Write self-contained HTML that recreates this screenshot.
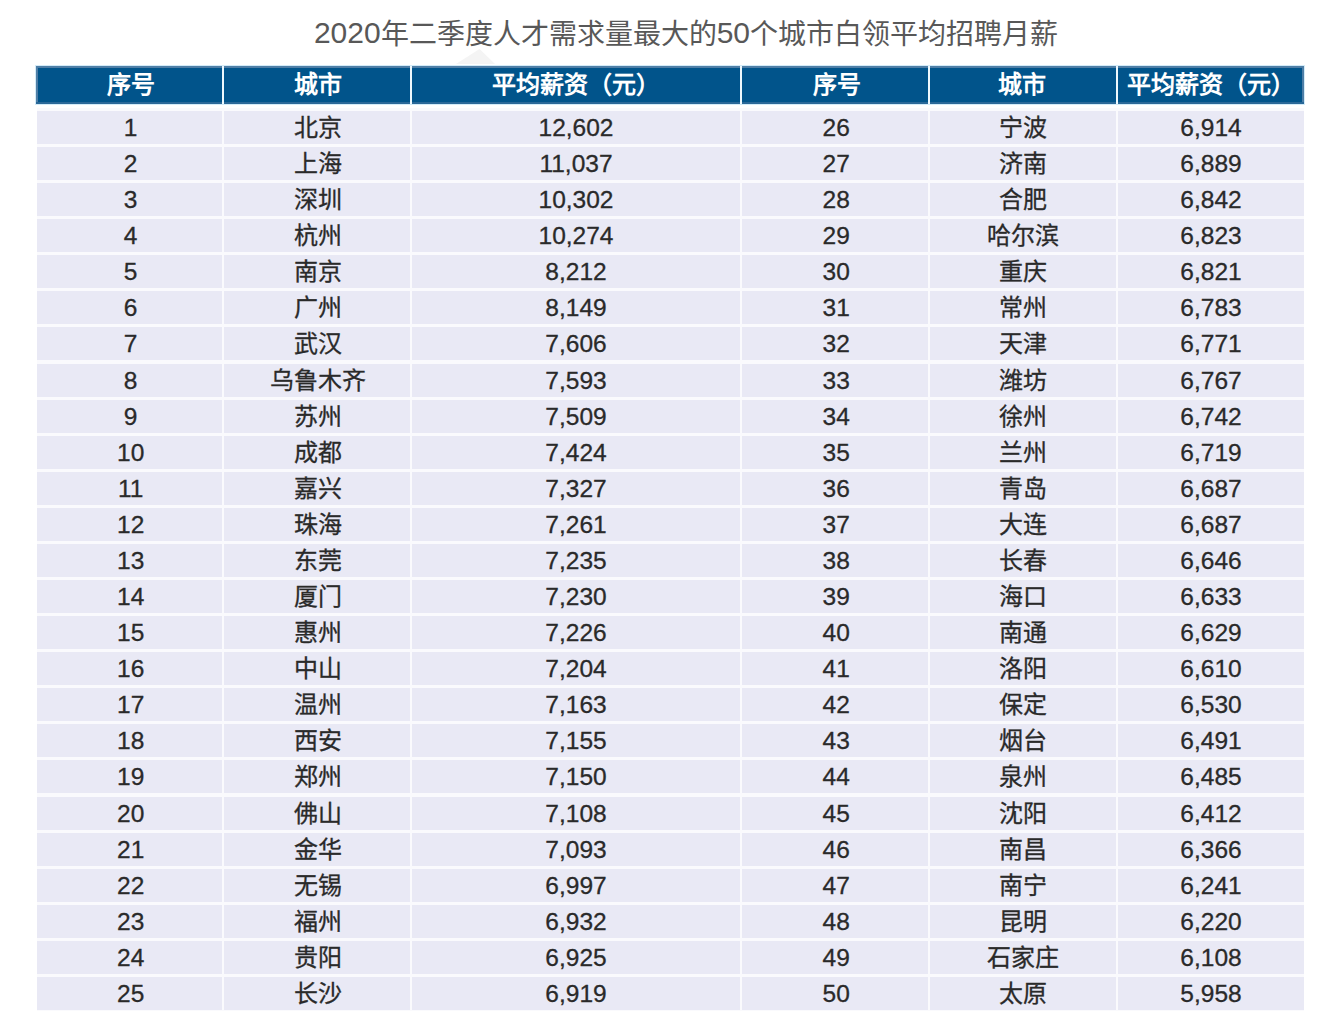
<!DOCTYPE html>
<html lang="zh-CN"><head><meta charset="utf-8"><style>
*{margin:0;padding:0;box-sizing:border-box}
html,body{width:1338px;height:1036px;background:#fff;overflow:hidden}
body{position:relative;font-family:"Liberation Sans",sans-serif}
.t{position:absolute;left:0;top:14px;width:1372px;text-align:center;font-size:28px;line-height:40px;color:#585858;white-space:nowrap}
.td{font-size:30px;position:relative;top:-1.5px}
.hb{position:absolute;left:35px;top:65px;width:1270px;height:40px;background:#d3ebf8}
.h{position:absolute;top:66px;height:38px;background:#01548b;box-shadow:inset 0 2px 0 #4f7ea6,inset 0 -2px 0 #2a6898;color:#fff;font-weight:bold;font-size:24px;line-height:38px;text-align:center;white-space:nowrap}
.tb{position:absolute;left:37px;top:108px;width:1267px;height:903px;background:#fafafd}
.c{position:absolute;height:33px;background:#e9e9f5;color:#2a2a2a;line-height:33px;text-align:center;white-space:nowrap}
.n{font-size:24.5px;-webkit-text-stroke:0.3px #2a2a2a}
.z{font-size:24px;-webkit-text-stroke:0.3px #2a2a2a}
</style></head><body>
<div class="t"><span class="td">2020</span>年二季度人才需求量最大的<span class="td">50</span>个城市白领平均招聘月薪</div>
<svg style="position:absolute;left:0;top:0" width="1338" height="70"><polygon points="456,64 479.5,49 495,64" fill="#f4f4f4"/></svg>
<div class="hb"></div>
<div style="position:absolute;left:222px;top:66px;width:2px;height:38px;background:#eef8fd"></div>
<div style="position:absolute;left:410px;top:66px;width:2px;height:38px;background:#eef8fd"></div>
<div style="position:absolute;left:740px;top:66px;width:2px;height:38px;background:#eef8fd"></div>
<div style="position:absolute;left:928px;top:66px;width:2px;height:38px;background:#eef8fd"></div>
<div style="position:absolute;left:1116px;top:66px;width:2px;height:38px;background:#eef8fd"></div>
<div class="h" style="left:36px;width:186px;box-shadow:inset 0 2px 0 #4f7ea6,inset 0 -2px 0 #2a6898,inset 2px 0 0 #4f7ea6"><span style="position:relative;left:1.8px">序号</span></div>
<div class="h" style="left:224px;width:186px"><span style="position:relative;left:0.9px">城市</span></div>
<div class="h" style="left:412px;width:328px"><span style="position:relative;left:0.0px">平均薪资（元）</span></div>
<div class="h" style="left:742px;width:186px"><span style="position:relative;left:1.6px">序号</span></div>
<div class="h" style="left:930px;width:186px"><span style="position:relative;left:-1.0px">城市</span></div>
<div class="h" style="left:1118px;width:186px;box-shadow:inset 0 2px 0 #4f7ea6,inset 0 -2px 0 #2a6898,inset -2px 0 0 #4f7ea6"><span style="position:relative;left:0.0px">平均薪资（元）</span></div>
<div class="tb"></div>
<div class="c n" style="left:37px;top:111px;width:185px"><span style="position:relative;left:1.2px">1</span></div>
<div class="c z" style="left:224px;top:111px;width:186px"><span style="position:relative;left:1.0px">北京</span></div>
<div class="c n" style="left:412px;top:111px;width:328px"><span style="position:relative;left:0.0px">12,602</span></div>
<div class="c n" style="left:742px;top:111px;width:186px"><span style="position:relative;left:1.2px">26</span></div>
<div class="c z" style="left:930px;top:111px;width:186px"><span style="position:relative;left:-0.5px">宁波</span></div>
<div class="c n" style="left:1118px;top:111px;width:186px"><span style="position:relative;left:0.0px">6,914</span></div>
<div class="c n" style="left:37px;top:147px;width:185px"><span style="position:relative;left:1.2px">2</span></div>
<div class="c z" style="left:224px;top:147px;width:186px"><span style="position:relative;left:1.0px">上海</span></div>
<div class="c n" style="left:412px;top:147px;width:328px"><span style="position:relative;left:0.0px">11,037</span></div>
<div class="c n" style="left:742px;top:147px;width:186px"><span style="position:relative;left:1.2px">27</span></div>
<div class="c z" style="left:930px;top:147px;width:186px"><span style="position:relative;left:-0.5px">济南</span></div>
<div class="c n" style="left:1118px;top:147px;width:186px"><span style="position:relative;left:0.0px">6,889</span></div>
<div class="c n" style="left:37px;top:183px;width:185px"><span style="position:relative;left:1.2px">3</span></div>
<div class="c z" style="left:224px;top:183px;width:186px"><span style="position:relative;left:1.0px">深圳</span></div>
<div class="c n" style="left:412px;top:183px;width:328px"><span style="position:relative;left:0.0px">10,302</span></div>
<div class="c n" style="left:742px;top:183px;width:186px"><span style="position:relative;left:1.2px">28</span></div>
<div class="c z" style="left:930px;top:183px;width:186px"><span style="position:relative;left:-0.5px">合肥</span></div>
<div class="c n" style="left:1118px;top:183px;width:186px"><span style="position:relative;left:0.0px">6,842</span></div>
<div class="c n" style="left:37px;top:219px;width:185px"><span style="position:relative;left:1.2px">4</span></div>
<div class="c z" style="left:224px;top:219px;width:186px"><span style="position:relative;left:1.0px">杭州</span></div>
<div class="c n" style="left:412px;top:219px;width:328px"><span style="position:relative;left:0.0px">10,274</span></div>
<div class="c n" style="left:742px;top:219px;width:186px"><span style="position:relative;left:1.2px">29</span></div>
<div class="c z" style="left:930px;top:219px;width:186px"><span style="position:relative;left:-0.5px">哈尔滨</span></div>
<div class="c n" style="left:1118px;top:219px;width:186px"><span style="position:relative;left:0.0px">6,823</span></div>
<div class="c n" style="left:37px;top:255px;width:185px"><span style="position:relative;left:1.2px">5</span></div>
<div class="c z" style="left:224px;top:255px;width:186px"><span style="position:relative;left:1.0px">南京</span></div>
<div class="c n" style="left:412px;top:255px;width:328px"><span style="position:relative;left:0.0px">8,212</span></div>
<div class="c n" style="left:742px;top:255px;width:186px"><span style="position:relative;left:1.2px">30</span></div>
<div class="c z" style="left:930px;top:255px;width:186px"><span style="position:relative;left:-0.5px">重庆</span></div>
<div class="c n" style="left:1118px;top:255px;width:186px"><span style="position:relative;left:0.0px">6,821</span></div>
<div class="c n" style="left:37px;top:291px;width:185px"><span style="position:relative;left:1.2px">6</span></div>
<div class="c z" style="left:224px;top:291px;width:186px"><span style="position:relative;left:1.0px">广州</span></div>
<div class="c n" style="left:412px;top:291px;width:328px"><span style="position:relative;left:0.0px">8,149</span></div>
<div class="c n" style="left:742px;top:291px;width:186px"><span style="position:relative;left:1.2px">31</span></div>
<div class="c z" style="left:930px;top:291px;width:186px"><span style="position:relative;left:-0.5px">常州</span></div>
<div class="c n" style="left:1118px;top:291px;width:186px"><span style="position:relative;left:0.0px">6,783</span></div>
<div class="c n" style="left:37px;top:327px;width:185px"><span style="position:relative;left:1.2px">7</span></div>
<div class="c z" style="left:224px;top:327px;width:186px"><span style="position:relative;left:1.0px">武汉</span></div>
<div class="c n" style="left:412px;top:327px;width:328px"><span style="position:relative;left:0.0px">7,606</span></div>
<div class="c n" style="left:742px;top:327px;width:186px"><span style="position:relative;left:1.2px">32</span></div>
<div class="c z" style="left:930px;top:327px;width:186px"><span style="position:relative;left:-0.5px">天津</span></div>
<div class="c n" style="left:1118px;top:327px;width:186px"><span style="position:relative;left:0.0px">6,771</span></div>
<div class="c n" style="left:37px;top:364px;width:185px"><span style="position:relative;left:1.2px">8</span></div>
<div class="c z" style="left:224px;top:364px;width:186px"><span style="position:relative;left:1.0px">乌鲁木齐</span></div>
<div class="c n" style="left:412px;top:364px;width:328px"><span style="position:relative;left:0.0px">7,593</span></div>
<div class="c n" style="left:742px;top:364px;width:186px"><span style="position:relative;left:1.2px">33</span></div>
<div class="c z" style="left:930px;top:364px;width:186px"><span style="position:relative;left:-0.5px">潍坊</span></div>
<div class="c n" style="left:1118px;top:364px;width:186px"><span style="position:relative;left:0.0px">6,767</span></div>
<div class="c n" style="left:37px;top:400px;width:185px"><span style="position:relative;left:1.2px">9</span></div>
<div class="c z" style="left:224px;top:400px;width:186px"><span style="position:relative;left:1.0px">苏州</span></div>
<div class="c n" style="left:412px;top:400px;width:328px"><span style="position:relative;left:0.0px">7,509</span></div>
<div class="c n" style="left:742px;top:400px;width:186px"><span style="position:relative;left:1.2px">34</span></div>
<div class="c z" style="left:930px;top:400px;width:186px"><span style="position:relative;left:-0.5px">徐州</span></div>
<div class="c n" style="left:1118px;top:400px;width:186px"><span style="position:relative;left:0.0px">6,742</span></div>
<div class="c n" style="left:37px;top:436px;width:185px"><span style="position:relative;left:1.2px">10</span></div>
<div class="c z" style="left:224px;top:436px;width:186px"><span style="position:relative;left:1.0px">成都</span></div>
<div class="c n" style="left:412px;top:436px;width:328px"><span style="position:relative;left:0.0px">7,424</span></div>
<div class="c n" style="left:742px;top:436px;width:186px"><span style="position:relative;left:1.2px">35</span></div>
<div class="c z" style="left:930px;top:436px;width:186px"><span style="position:relative;left:-0.5px">兰州</span></div>
<div class="c n" style="left:1118px;top:436px;width:186px"><span style="position:relative;left:0.0px">6,719</span></div>
<div class="c n" style="left:37px;top:472px;width:185px"><span style="position:relative;left:1.2px">11</span></div>
<div class="c z" style="left:224px;top:472px;width:186px"><span style="position:relative;left:1.0px">嘉兴</span></div>
<div class="c n" style="left:412px;top:472px;width:328px"><span style="position:relative;left:0.0px">7,327</span></div>
<div class="c n" style="left:742px;top:472px;width:186px"><span style="position:relative;left:1.2px">36</span></div>
<div class="c z" style="left:930px;top:472px;width:186px"><span style="position:relative;left:-0.5px">青岛</span></div>
<div class="c n" style="left:1118px;top:472px;width:186px"><span style="position:relative;left:0.0px">6,687</span></div>
<div class="c n" style="left:37px;top:508px;width:185px"><span style="position:relative;left:1.2px">12</span></div>
<div class="c z" style="left:224px;top:508px;width:186px"><span style="position:relative;left:1.0px">珠海</span></div>
<div class="c n" style="left:412px;top:508px;width:328px"><span style="position:relative;left:0.0px">7,261</span></div>
<div class="c n" style="left:742px;top:508px;width:186px"><span style="position:relative;left:1.2px">37</span></div>
<div class="c z" style="left:930px;top:508px;width:186px"><span style="position:relative;left:-0.5px">大连</span></div>
<div class="c n" style="left:1118px;top:508px;width:186px"><span style="position:relative;left:0.0px">6,687</span></div>
<div class="c n" style="left:37px;top:544px;width:185px"><span style="position:relative;left:1.2px">13</span></div>
<div class="c z" style="left:224px;top:544px;width:186px"><span style="position:relative;left:1.0px">东莞</span></div>
<div class="c n" style="left:412px;top:544px;width:328px"><span style="position:relative;left:0.0px">7,235</span></div>
<div class="c n" style="left:742px;top:544px;width:186px"><span style="position:relative;left:1.2px">38</span></div>
<div class="c z" style="left:930px;top:544px;width:186px"><span style="position:relative;left:-0.5px">长春</span></div>
<div class="c n" style="left:1118px;top:544px;width:186px"><span style="position:relative;left:0.0px">6,646</span></div>
<div class="c n" style="left:37px;top:580px;width:185px"><span style="position:relative;left:1.2px">14</span></div>
<div class="c z" style="left:224px;top:580px;width:186px"><span style="position:relative;left:1.0px">厦门</span></div>
<div class="c n" style="left:412px;top:580px;width:328px"><span style="position:relative;left:0.0px">7,230</span></div>
<div class="c n" style="left:742px;top:580px;width:186px"><span style="position:relative;left:1.2px">39</span></div>
<div class="c z" style="left:930px;top:580px;width:186px"><span style="position:relative;left:-0.5px">海口</span></div>
<div class="c n" style="left:1118px;top:580px;width:186px"><span style="position:relative;left:0.0px">6,633</span></div>
<div class="c n" style="left:37px;top:616px;width:185px"><span style="position:relative;left:1.2px">15</span></div>
<div class="c z" style="left:224px;top:616px;width:186px"><span style="position:relative;left:1.0px">惠州</span></div>
<div class="c n" style="left:412px;top:616px;width:328px"><span style="position:relative;left:0.0px">7,226</span></div>
<div class="c n" style="left:742px;top:616px;width:186px"><span style="position:relative;left:1.2px">40</span></div>
<div class="c z" style="left:930px;top:616px;width:186px"><span style="position:relative;left:-0.5px">南通</span></div>
<div class="c n" style="left:1118px;top:616px;width:186px"><span style="position:relative;left:0.0px">6,629</span></div>
<div class="c n" style="left:37px;top:652px;width:185px"><span style="position:relative;left:1.2px">16</span></div>
<div class="c z" style="left:224px;top:652px;width:186px"><span style="position:relative;left:1.0px">中山</span></div>
<div class="c n" style="left:412px;top:652px;width:328px"><span style="position:relative;left:0.0px">7,204</span></div>
<div class="c n" style="left:742px;top:652px;width:186px"><span style="position:relative;left:1.2px">41</span></div>
<div class="c z" style="left:930px;top:652px;width:186px"><span style="position:relative;left:-0.5px">洛阳</span></div>
<div class="c n" style="left:1118px;top:652px;width:186px"><span style="position:relative;left:0.0px">6,610</span></div>
<div class="c n" style="left:37px;top:688px;width:185px"><span style="position:relative;left:1.2px">17</span></div>
<div class="c z" style="left:224px;top:688px;width:186px"><span style="position:relative;left:1.0px">温州</span></div>
<div class="c n" style="left:412px;top:688px;width:328px"><span style="position:relative;left:0.0px">7,163</span></div>
<div class="c n" style="left:742px;top:688px;width:186px"><span style="position:relative;left:1.2px">42</span></div>
<div class="c z" style="left:930px;top:688px;width:186px"><span style="position:relative;left:-0.5px">保定</span></div>
<div class="c n" style="left:1118px;top:688px;width:186px"><span style="position:relative;left:0.0px">6,530</span></div>
<div class="c n" style="left:37px;top:724px;width:185px"><span style="position:relative;left:1.2px">18</span></div>
<div class="c z" style="left:224px;top:724px;width:186px"><span style="position:relative;left:1.0px">西安</span></div>
<div class="c n" style="left:412px;top:724px;width:328px"><span style="position:relative;left:0.0px">7,155</span></div>
<div class="c n" style="left:742px;top:724px;width:186px"><span style="position:relative;left:1.2px">43</span></div>
<div class="c z" style="left:930px;top:724px;width:186px"><span style="position:relative;left:-0.5px">烟台</span></div>
<div class="c n" style="left:1118px;top:724px;width:186px"><span style="position:relative;left:0.0px">6,491</span></div>
<div class="c n" style="left:37px;top:760px;width:185px"><span style="position:relative;left:1.2px">19</span></div>
<div class="c z" style="left:224px;top:760px;width:186px"><span style="position:relative;left:1.0px">郑州</span></div>
<div class="c n" style="left:412px;top:760px;width:328px"><span style="position:relative;left:0.0px">7,150</span></div>
<div class="c n" style="left:742px;top:760px;width:186px"><span style="position:relative;left:1.2px">44</span></div>
<div class="c z" style="left:930px;top:760px;width:186px"><span style="position:relative;left:-0.5px">泉州</span></div>
<div class="c n" style="left:1118px;top:760px;width:186px"><span style="position:relative;left:0.0px">6,485</span></div>
<div class="c n" style="left:37px;top:797px;width:185px"><span style="position:relative;left:1.2px">20</span></div>
<div class="c z" style="left:224px;top:797px;width:186px"><span style="position:relative;left:1.0px">佛山</span></div>
<div class="c n" style="left:412px;top:797px;width:328px"><span style="position:relative;left:0.0px">7,108</span></div>
<div class="c n" style="left:742px;top:797px;width:186px"><span style="position:relative;left:1.2px">45</span></div>
<div class="c z" style="left:930px;top:797px;width:186px"><span style="position:relative;left:-0.5px">沈阳</span></div>
<div class="c n" style="left:1118px;top:797px;width:186px"><span style="position:relative;left:0.0px">6,412</span></div>
<div class="c n" style="left:37px;top:833px;width:185px"><span style="position:relative;left:1.2px">21</span></div>
<div class="c z" style="left:224px;top:833px;width:186px"><span style="position:relative;left:1.0px">金华</span></div>
<div class="c n" style="left:412px;top:833px;width:328px"><span style="position:relative;left:0.0px">7,093</span></div>
<div class="c n" style="left:742px;top:833px;width:186px"><span style="position:relative;left:1.2px">46</span></div>
<div class="c z" style="left:930px;top:833px;width:186px"><span style="position:relative;left:-0.5px">南昌</span></div>
<div class="c n" style="left:1118px;top:833px;width:186px"><span style="position:relative;left:0.0px">6,366</span></div>
<div class="c n" style="left:37px;top:869px;width:185px"><span style="position:relative;left:1.2px">22</span></div>
<div class="c z" style="left:224px;top:869px;width:186px"><span style="position:relative;left:1.0px">无锡</span></div>
<div class="c n" style="left:412px;top:869px;width:328px"><span style="position:relative;left:0.0px">6,997</span></div>
<div class="c n" style="left:742px;top:869px;width:186px"><span style="position:relative;left:1.2px">47</span></div>
<div class="c z" style="left:930px;top:869px;width:186px"><span style="position:relative;left:-0.5px">南宁</span></div>
<div class="c n" style="left:1118px;top:869px;width:186px"><span style="position:relative;left:0.0px">6,241</span></div>
<div class="c n" style="left:37px;top:905px;width:185px"><span style="position:relative;left:1.2px">23</span></div>
<div class="c z" style="left:224px;top:905px;width:186px"><span style="position:relative;left:1.0px">福州</span></div>
<div class="c n" style="left:412px;top:905px;width:328px"><span style="position:relative;left:0.0px">6,932</span></div>
<div class="c n" style="left:742px;top:905px;width:186px"><span style="position:relative;left:1.2px">48</span></div>
<div class="c z" style="left:930px;top:905px;width:186px"><span style="position:relative;left:-0.5px">昆明</span></div>
<div class="c n" style="left:1118px;top:905px;width:186px"><span style="position:relative;left:0.0px">6,220</span></div>
<div class="c n" style="left:37px;top:941px;width:185px"><span style="position:relative;left:1.2px">24</span></div>
<div class="c z" style="left:224px;top:941px;width:186px"><span style="position:relative;left:1.0px">贵阳</span></div>
<div class="c n" style="left:412px;top:941px;width:328px"><span style="position:relative;left:0.0px">6,925</span></div>
<div class="c n" style="left:742px;top:941px;width:186px"><span style="position:relative;left:1.2px">49</span></div>
<div class="c z" style="left:930px;top:941px;width:186px"><span style="position:relative;left:-0.5px">石家庄</span></div>
<div class="c n" style="left:1118px;top:941px;width:186px"><span style="position:relative;left:0.0px">6,108</span></div>
<div class="c n" style="left:37px;top:977px;width:185px"><span style="position:relative;left:1.2px">25</span></div>
<div class="c z" style="left:224px;top:977px;width:186px"><span style="position:relative;left:1.0px">长沙</span></div>
<div class="c n" style="left:412px;top:977px;width:328px"><span style="position:relative;left:0.0px">6,919</span></div>
<div class="c n" style="left:742px;top:977px;width:186px"><span style="position:relative;left:1.2px">50</span></div>
<div class="c z" style="left:930px;top:977px;width:186px"><span style="position:relative;left:-0.5px">太原</span></div>
<div class="c n" style="left:1118px;top:977px;width:186px"><span style="position:relative;left:0.0px">5,958</span></div>
</body></html>
